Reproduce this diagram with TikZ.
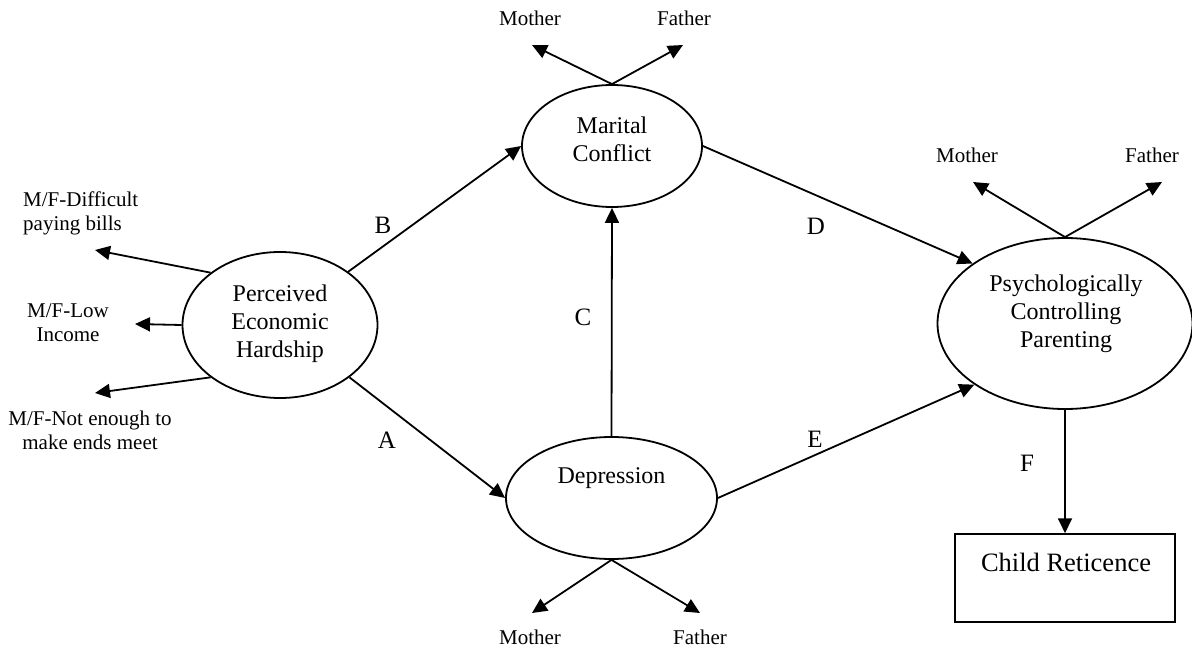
\documentclass[tikz,border=0pt]{standalone}
\usepackage{fontspec}
\setmainfont{Liberation Serif}
\usetikzlibrary{shapes.geometric,arrows.meta}
\begin{document}
\begin{tikzpicture}[x=1bp,y=-1bp,
  ell/.style={draw,ellipse,line width=1.8bp,inner sep=0pt},
  arr/.style={line width=1.8bp,-{Triangle[length=15bp,width=14bp]}},
  big/.style={font=\fontsize{24bp}{28bp}\selectfont,align=center,inner sep=0pt},
  small/.style={font=\fontsize{21bp}{24bp}\selectfont,align=center,inner sep=0pt},
  lett/.style={font=\fontsize{25bp}{28bp}\selectfont,inner sep=0pt}]
\useasboundingbox (0,0) rectangle (1192,650);
% ellipses
\node[ell,minimum width=195bp,minimum height=146bp] (peh) at (280,325) {};
\node[ell,minimum width=180bp,minimum height=122bp] (mc) at (612,146) {};
\node[ell,minimum width=211bp,minimum height=122bp] (dep) at (611.5,498) {};
\node[ell,minimum width=255bp,minimum height=171bp] (pcp) at (1065,323.5) {};
\node[draw,line width=1.5bp,minimum width=220bp,minimum height=88bp,inner sep=0pt] (cr) at (1065,578) {};
% texts
\node[big] (pehT) at (280,324) {Perceived\\Economic\\Hardship};
\node[big] (mcT) at (612,139) {Marital\\Conflict};
\node[big] (depT) at (611.5,478) {Depression};
\node[big] (pcpT) at (1066,314) {Psychologically\\Controlling\\Parenting};
\node[font=\fontsize{26.5bp}{30bp}\selectfont,inner sep=0pt] (crT) at (1066,562) {Child Reticence};
% indicator labels
\node[small,align=left,anchor=west] (i1) at (23,213) {M/F-Difficult\\paying bills};
\node[small] (i2) at (68,323) {M/F-Low\\Income};
\node[small] (i3) at (90,430) {M/F-Not enough to\\make ends meet};
\node[small] (mcM) at (530,18) {Mother};
\node[small] (mcF) at (684,18) {Father};
\node[small] (pcM) at (967,155) {Mother};
\node[small] (pcF) at (1152,155) {Father};
\node[small] (dM) at (530,637) {Mother};
\node[small] (dF) at (700,637) {Father};
% path letters
\node[lett] (lB) at (383,225) {B};
\node[lett] (lA) at (387,440) {A};
\node[lett] (lC) at (583,317) {C};
\node[lett] (lD) at (816,226) {D};
\node[lett] (lE) at (815,439) {E};
\node[lett] (lF) at (1027,463) {F};
% free tips
\coordinate (t1) at (95,250);
\coordinate (t2) at (135,324);
\coordinate (t3) at (95,393);
\coordinate (mcm) at (532,45);
\coordinate (mcf) at (683,45);
\coordinate (pcm) at (973,182);
\coordinate (pcf) at (1162,182);
\coordinate (dm) at (532,613);
\coordinate (df) at (700,613);
% arrows
\draw[arr] (peh.143) -- (t1);
\draw[arr] (peh.west) -- (t2);
\draw[arr] (peh.-143) -- (t3);
\draw[arr] (mc.north) -- (mcm);
\draw[arr] (mc.north) -- (mcf);
\draw[arr] (pcp.north) -- (pcm);
\draw[arr] (pcp.north) -- (pcf);
\draw[arr] (dep.south) -- (dm);
\draw[arr] (dep.south) -- (df);
\draw[arr] (peh.38) -- (mc.west);
\draw[arr] (peh.-37) -- (dep.west);
\draw[arr] (dep.north) -- (mc.south);
\draw[arr] (mc.east) -- (pcp.147);
\draw[arr] (dep.east) -- (pcp.-146);
\draw[arr] (pcp.south) -- (cr.north);
\end{tikzpicture}
\end{document}
